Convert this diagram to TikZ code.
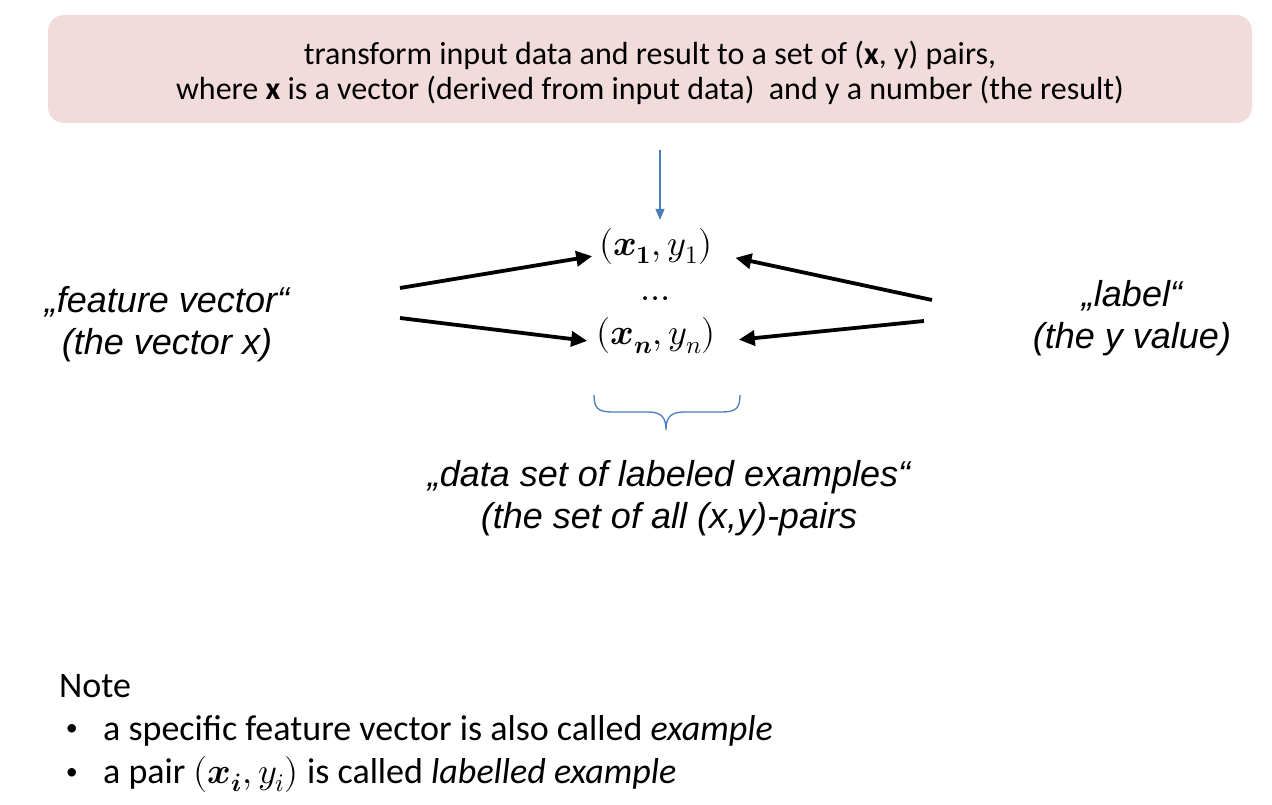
\documentclass[tikz,border=0pt]{standalone}
\usepackage{fontspec}
\usepackage{unicode-math}
\setmainfont{Carlito}
\setmathfont{Latin Modern Math}
\newfontfamily\arialfont{Liberation Sans}
\usetikzlibrary{arrows.meta}
\usetikzlibrary{positioning}
\definecolor{boxpink}{HTML}{F2DCDB}
\definecolor{lineblue}{HTML}{4A7EBB}

\begin{document}
\begin{tikzpicture}[x=1pt, y=-1pt, every node/.style={inner sep=0pt, align=center},
 task/.style={fill=boxpink, rounded corners=16pt, minimum width=1204pt, minimum height=108pt},
 tasktext/.style={font=\fontsize{32}{35}\selectfont},
 tag/.style={font=\arialfont\itshape\fontsize{36}{42}\selectfont},
 pair/.style={font=\fontsize{36}{40}\selectfont},
 note/.style={font=\fontsize{36}{43}\selectfont, anchor=base west, align=left},
 dot/.style={font=\fontsize{24}{24}\selectfont},
 fat/.style={line width=3.8pt, -{Triangle[length=16pt,width=15pt]}}
]
 \tikzstyle{hint}=[lineblue, line width=1.3pt];
\useasboundingbox (0,0) rectangle (1272,805);

\node[task] (job) at (650,69) {};
\node[tasktext] (jobtext) at (650,73) {transform input data and result to a set of (\textbf{x}, y) pairs,\\ where \textbf{x} is a vector (derived from input data)\ \ and y a number (the result)};

\node[pair] (p1) at (656,246) {$(\symbfit{x}_{\symbf{1}}, y_1)$};
\node[pair] (dots) at (656,299) {$\ldots$};
\node[pair] (pn) at (656,336) {$(\symbfit{x}_{\symbfit{n}}, y_n)$};

\node[tag] (feat) at (167,324) {„feature vector“\\(the vector x)};
\node[tag] (lab) at (1132,318) {„label“\\(the y value)};
\node[tag] (set) at (669,498) {„data set of labeled examples“\\(the set of all (x,y)-pairs};

\node[note] (note) at (59,697) {Note};
\node[note] (n1) at (103,740) {a specific feature vector is also called \textit{example}};
\node[note] (n2) at (103,783) {a pair $(\symbfit{x}_{\symbfit{i}}, y_i)$ is called \textit{labelled example}};
\node[dot, left=25pt of n1.west] (b1) {\textbullet};
\node[dot, left=25pt of n2.west] (b2) {\textbullet};

% free ends of the arrows
\coordinate (drop) at (660,150);
\coordinate (fa) at (400,288);
\coordinate (fb) at (400,318);
\coordinate (la) at (932,300);
\coordinate (lb) at (924,321);

\draw[hint, -{Triangle[length=11pt,width=9pt]}, shorten >=8pt] (drop) -- (drop |- p1.north);
\draw[fat, shorten >=7pt] (fa) -- ([yshift=-9pt]p1.west);
\draw[fat, shorten >=9pt] (fb) -- ([yshift=-6pt]pn.west);
\draw[fat, shorten >=23pt] (la) -- ([yshift=-7pt]p1.east);
\draw[fat, shorten >=23pt] (lb) -- ([yshift=-6pt]pn.east);

% brace under the pairs
\draw[hint] (594,395) .. controls (594,408) and (598,412) .. (612,412) -- (648,412)
 .. controls (662,412) and (666,418) .. (666,430)
 .. controls (666,418) and (670,412) .. (684,412) -- (722,412)
 .. controls (736,412) and (740,408) .. (740,395);

\end{tikzpicture}
\end{document}
